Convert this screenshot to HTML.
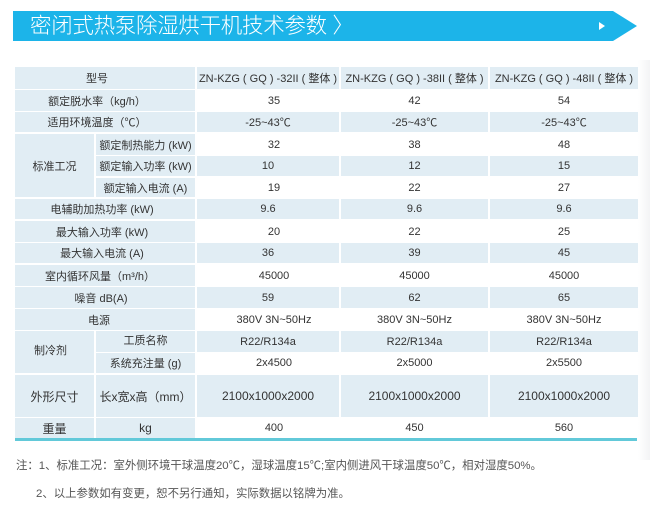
<!DOCTYPE html>
<html>
<head>
<meta charset="utf-8">
<style>
  html,body{margin:0;padding:0;}
  body{width:650px;height:505px;position:relative;background:#fff;overflow:hidden;
       font-family:"Liberation Sans","Noto Sans CJK SC",sans-serif;color:#333;}
  .bar{position:absolute;left:13px;top:11px;width:600px;height:30px;background:#1cb4e9;}
  .tip{position:absolute;left:613px;top:11px;width:0;height:0;border-top:15px solid transparent;border-bottom:15px solid transparent;border-left:24px solid #1cb4e9;}
  .tri{position:absolute;left:599px;top:22px;width:0;height:0;border-top:4.5px solid transparent;border-bottom:4.5px solid transparent;border-left:6px solid #fff;}
  .title{position:absolute;left:30px;top:11px;height:30px;line-height:30px;font-size:21.5px;color:#fff;font-weight:300;letter-spacing:-0.3px;white-space:nowrap;}
  .c{position:absolute;display:flex;align-items:center;justify-content:center;font-size:11px;white-space:nowrap;color:#333;}
  .b{background:#e1edf4;}
  .h{font-size:11px;}
  .line{position:absolute;left:15px;top:438px;width:622px;height:3px;background:#62c9d9;}
  .note{position:absolute;font-size:11.4px;color:#555;white-space:nowrap;}
  .shade{position:absolute;left:638px;top:60px;width:12px;height:400px;background:linear-gradient(to right,#fff,#f3f4f5);}
</style>
</head>
<body>
<div class="shade"></div>
<div class="bar"></div>
<div class="tip"></div>
<div class="tri"></div>
<div class="title">密闭式热泵除湿烘干机技术参数 〉</div>

<!-- header row -->
<div class="c b" style="left:15px;top:67px;width:180px;height:22px;"><span style="margin-right:16px">型号</span></div>
<div class="c b h" style="left:197px;top:67px;width:142px;height:22px;">ZN-KZG ( GQ ) -32II ( 整体 )</div>
<div class="c b h" style="left:341px;top:67px;width:147px;height:22px;">ZN-KZG ( GQ ) -38II ( 整体 )</div>
<div class="c b h" style="left:490px;top:67px;width:148px;height:22px;">ZN-KZG ( GQ ) -48II ( 整体 )</div>

<!-- r1 -->
<div class="c b" style="left:15px;top:90px;width:180px;height:21px;"><span style="margin-right:16px">额定脱水率（kg/h）</span></div>
<div class="c" style="left:197px;top:90px;width:154px;height:21px;">35</div>
<div class="c" style="left:341px;top:90px;width:147px;height:21px;">42</div>
<div class="c" style="left:490px;top:90px;width:148px;height:21px;">54</div>

<!-- r2 -->
<div class="c b" style="left:15px;top:112px;width:180px;height:20px;"><span style="margin-right:16px">适用环境温度（℃）</span></div>
<div class="c b" style="left:197px;top:112px;width:142px;height:20px;">-25~43℃</div>
<div class="c b" style="left:341px;top:112px;width:147px;height:20px;">-25~43℃</div>
<div class="c b" style="left:490px;top:112px;width:148px;height:20px;">-25~43℃</div>

<!-- r3-r5 standard -->
<div class="c b" style="left:15px;top:134px;width:79px;height:63px;">标准工况</div>
<div class="c b" style="left:96px;top:134px;width:99px;height:21px;">额定制热能力 (kW)</div>
<div class="c" style="left:197px;top:134px;width:154px;height:21px;">32</div>
<div class="c" style="left:341px;top:134px;width:147px;height:21px;">38</div>
<div class="c" style="left:490px;top:134px;width:148px;height:21px;">48</div>

<div class="c b" style="left:96px;top:156px;width:99px;height:20px;">额定输入功率 (kW)</div>
<div class="c b" style="left:197px;top:156px;width:142px;height:20px;">10</div>
<div class="c b" style="left:341px;top:156px;width:147px;height:20px;">12</div>
<div class="c b" style="left:490px;top:156px;width:148px;height:20px;">15</div>

<div class="c b" style="left:96px;top:178px;width:99px;height:19px;">额定输入电流 (A)</div>
<div class="c" style="left:197px;top:178px;width:154px;height:19px;">19</div>
<div class="c" style="left:341px;top:178px;width:147px;height:19px;">22</div>
<div class="c" style="left:490px;top:178px;width:148px;height:19px;">27</div>

<!-- r6 -->
<div class="c b" style="left:15px;top:199px;width:180px;height:20px;"><span style="margin-right:6px">电辅助加热功率 (kW)</span></div>
<div class="c b" style="left:197px;top:199px;width:142px;height:20px;">9.6</div>
<div class="c b" style="left:341px;top:199px;width:147px;height:20px;">9.6</div>
<div class="c b" style="left:490px;top:199px;width:148px;height:20px;">9.6</div>

<!-- r7 -->
<div class="c b" style="left:15px;top:221px;width:180px;height:21px;"><span style="margin-right:6px">最大输入功率 (kW)</span></div>
<div class="c" style="left:197px;top:221px;width:154px;height:21px;">20</div>
<div class="c" style="left:341px;top:221px;width:147px;height:21px;">22</div>
<div class="c" style="left:490px;top:221px;width:148px;height:21px;">25</div>

<!-- r8 -->
<div class="c b" style="left:15px;top:243px;width:180px;height:20px;"><span style="margin-right:6px">最大输入电流 (A)</span></div>
<div class="c b" style="left:197px;top:243px;width:142px;height:20px;">36</div>
<div class="c b" style="left:341px;top:243px;width:147px;height:20px;">39</div>
<div class="c b" style="left:490px;top:243px;width:148px;height:20px;">45</div>

<!-- r9 -->
<div class="c b" style="left:15px;top:265px;width:180px;height:21px;"><span style="margin-right:10px">室内循环风量（m³/h）</span></div>
<div class="c" style="left:197px;top:265px;width:154px;height:21px;">45000</div>
<div class="c" style="left:341px;top:265px;width:147px;height:21px;">45000</div>
<div class="c" style="left:490px;top:265px;width:148px;height:21px;">45000</div>

<!-- r10 -->
<div class="c b" style="left:15px;top:287px;width:180px;height:21px;"><span style="margin-right:8px">噪音 dB(A)</span></div>
<div class="c b" style="left:197px;top:287px;width:142px;height:21px;">59</div>
<div class="c b" style="left:341px;top:287px;width:147px;height:21px;">62</div>
<div class="c b" style="left:490px;top:287px;width:148px;height:21px;">65</div>

<!-- r11 -->
<div class="c b" style="left:15px;top:309px;width:180px;height:21px;"><span style="margin-right:12px">电源</span></div>
<div class="c" style="left:197px;top:309px;width:154px;height:21px;">380V 3N~50Hz</div>
<div class="c" style="left:341px;top:309px;width:147px;height:21px;">380V 3N~50Hz</div>
<div class="c" style="left:490px;top:309px;width:148px;height:21px;">380V 3N~50Hz</div>

<!-- r12-r13 refrigerant -->
<div class="c b" style="left:15px;top:331px;width:79px;height:42px;"><span style="margin-right:8px;margin-bottom:4px">制冷剂</span></div>
<div class="c b" style="left:96px;top:331px;width:99px;height:21px;"><span style="margin-bottom:3px">工质名称</span></div>
<div class="c b" style="left:197px;top:331px;width:142px;height:21px;">R22/R134a</div>
<div class="c b" style="left:341px;top:331px;width:147px;height:21px;">R22/R134a</div>
<div class="c b" style="left:490px;top:331px;width:148px;height:21px;">R22/R134a</div>

<div class="c b" style="left:96px;top:353px;width:99px;height:20px;">系统充注量 (g)</div>
<div class="c" style="left:197px;top:353px;width:154px;height:20px;">2x4500</div>
<div class="c" style="left:341px;top:353px;width:147px;height:20px;">2x5000</div>
<div class="c" style="left:490px;top:353px;width:148px;height:20px;">2x5500</div>

<!-- r14 -->
<div class="c b" style="left:15px;top:375px;width:79px;height:42px;font-size:12px;">外形尺寸</div>
<div class="c b" style="left:96px;top:375px;width:99px;height:42px;font-size:12px;">长x宽x高（mm）</div>
<div class="c b" style="left:197px;top:375px;width:142px;height:42px;font-size:12px;">2100x1000x2000</div>
<div class="c b" style="left:341px;top:375px;width:147px;height:42px;font-size:12px;">2100x1000x2000</div>
<div class="c b" style="left:490px;top:375px;width:148px;height:42px;font-size:12px;">2100x1000x2000</div>

<!-- r15 -->
<div class="c b" style="left:15px;top:418px;width:79px;height:20px;font-size:12px;">重量</div>
<div class="c b" style="left:96px;top:418px;width:99px;height:20px;font-size:12px;">kg</div>
<div class="c" style="left:197px;top:418px;width:154px;height:20px;">400</div>
<div class="c" style="left:341px;top:418px;width:147px;height:20px;">450</div>
<div class="c" style="left:490px;top:418px;width:148px;height:20px;">560</div>

<div class="line"></div>

<div class="note" style="left:16px;top:457px;">注：1、标准工况：室外侧环境干球温度20℃，湿球温度15℃;室内侧进风干球温度50℃，相对湿度50%。</div>
<div class="note" style="left:36px;top:485px;">2、以上参数如有变更，恕不另行通知，实际数据以铭牌为准。</div>
</body>
</html>
